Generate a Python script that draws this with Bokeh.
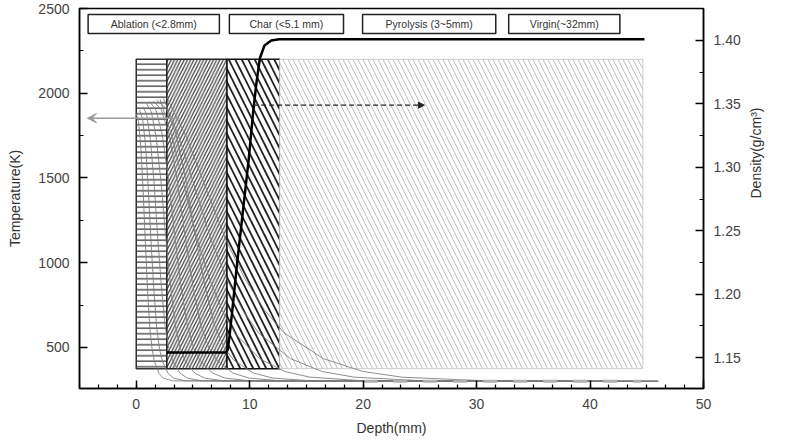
import math
from bokeh.plotting import figure
from bokeh.models import (Range1d, LinearAxis, SingleIntervalTicker, PrintfTickFormatter,
                          Arrow, VeeHead, NormalHead)
from bokeh.embed import file_html
from bokeh.resources import INLINE
from bokeh.core.properties import value

# ---------------- data ----------------
zone_names = ["Ablation (<2.8mm)", "Char (<5.1 mm)", "Pyrolysis (3~5mm)", "Virgin(~32mm)"]
zone_left = [0.0, 2.7, 8.0, 12.65]
zone_right = [2.7, 8.0, 12.65, 44.65]
zone_top = [2200, 2200, 2200, 2200]
zone_bottom = [375, 375, 375, 375]

density_x = [2.7, 7.9, 8.05, 8.2, 8.5, 8.9, 9.4, 9.9, 10.3, 10.6, 10.9, 11.3, 11.9, 12.6, 44.8]
density_y = [1.154, 1.154, 1.156, 1.165, 1.19, 1.225, 1.265, 1.305, 1.343, 1.367, 1.386, 1.396, 1.400, 1.401, 1.401]

t01_x = [0.0, 0.2, 0.4, 0.6, 0.8, 1.0, 1.2, 1.4, 1.6, 2.0, 2.4, 3.2, 46]
t01_T = [1880, 1833, 1690, 1438, 1122, 837, 616, 490, 419, 347, 319, 303, 300]
t02_x = [0.3, 0.55, 0.8, 1.05, 1.3, 1.55, 1.8, 2.05, 2.3, 2.8, 3.3, 4.3, 46]
t02_T = [1900, 1852, 1708, 1452, 1132, 844, 620, 492, 420, 348, 319, 303, 300]
t03_x = [0.6, 0.93, 1.25, 1.58, 1.9, 2.23, 2.55, 2.88, 3.2, 3.85, 4.5, 5.8, 46]
t03_T = [1920, 1871, 1726, 1466, 1142, 851, 624, 494, 422, 349, 319, 303, 300]
t04_x = [0.9, 1.33, 1.75, 2.18, 2.6, 3.03, 3.45, 3.88, 4.3, 5.15, 6.0, 7.7, 46]
t04_T = [1940, 1891, 1743, 1481, 1153, 858, 628, 497, 423, 349, 320, 303, 300]
t05_x = [1.2, 1.75, 2.3, 2.85, 3.4, 3.95, 4.5, 5.05, 5.6, 6.7, 7.8, 10.0, 46]
t05_T = [1950, 1900, 1752, 1488, 1158, 861, 630, 498, 424, 350, 320, 303, 300]
t06_x = [1.5, 2.2, 2.9, 3.6, 4.3, 5.0, 5.7, 6.4, 7.1, 8.5, 9.9, 12.7, 46]
t06_T = [1955, 1905, 1756, 1492, 1161, 863, 631, 499, 424, 350, 320, 303, 300]
t07_x = [1.8, 2.65, 3.5, 4.35, 5.2, 6.05, 6.9, 7.75, 8.6, 10.3, 12.0, 15.4, 46]
t07_T = [1960, 1910, 1761, 1495, 1163, 864, 632, 499, 425, 350, 320, 303, 300]
t08_x = [2.1, 3.2, 4.3, 5.4, 6.5, 7.6, 8.7, 10.9, 13.1, 15.3, 19.7, 46]
t08_T = [1965, 1732, 1432, 1133, 899, 716, 583, 433, 358, 325, 305, 300]
t09_x = [2.4, 3.8, 5.2, 6.6, 8.0, 9.4, 10.8, 13.6, 16.4, 19.2, 24.8, 46]
t09_T = [1970, 1736, 1436, 1135, 901, 718, 584, 434, 358, 325, 305, 300]
t10_x = [2.7, 4.43, 6.15, 7.88, 9.6, 11.33, 13.05, 16.5, 19.95, 23.4, 30.3, 46]
t10_T = [1975, 1741, 1439, 1138, 903, 719, 585, 434, 359, 325, 305, 300]

base_x = [20.0, 44.5]
base_T = [301, 301]

# ---------------- figure ----------------
FONT = "Liberation Sans"
p = figure(width=794, height=445, output_backend="svg", toolbar_location=None,
           x_range=Range1d(-5, 50), y_range=Range1d(258, 2500),
           min_border_left=79, min_border_right=91, min_border_top=8, min_border_bottom=57)
p.background_fill_color = "white"
p.border_fill_color = "white"
p.outline_line_color = "black"
p.outline_line_width = 1.5
p.xgrid.visible = False
p.ygrid.visible = False
p.extra_y_ranges = {"dens": Range1d(1.1256, 1.4252)}

def style_axis(ax):
    ax.axis_line_width = 1.5
    ax.axis_line_color = "black"
    ax.major_tick_in = 8
    ax.major_tick_out = 0
    ax.minor_tick_in = 4
    ax.minor_tick_out = 0
    ax.major_tick_line_width = 1.5
    ax.minor_tick_line_width = 1.2
    ax.major_label_text_font = FONT
    ax.major_label_text_font_size = "14px"
    ax.major_label_text_color = "#444444"
    ax.axis_label_text_font = FONT
    ax.axis_label_text_font_size = "14px"
    ax.axis_label_text_font_style = "normal"
    ax.axis_label_text_color = "#333333"
    ax.major_label_standoff = 10

xa = p.xaxis[0]
xa.ticker = SingleIntervalTicker(interval=10, num_minor_ticks=6)
style_axis(xa)
xa.axis_label = "Depth(mm)"
xa.axis_label_standoff = 8

ya = p.yaxis[0]
ya.ticker = SingleIntervalTicker(interval=500, num_minor_ticks=2)
style_axis(ya)
ya.axis_label = "Temperature(K)"
ya.axis_label_standoff = 12

ra = LinearAxis(y_range_name="dens", ticker=SingleIntervalTicker(interval=0.05, num_minor_ticks=2),
                formatter=PrintfTickFormatter(format="%.2f"))
style_axis(ra)
ra.axis_label = "Density(g/cm³)"
ra.axis_label_standoff = 12
ra.axis_label_orientation = math.pi / 2   # read bottom-to-top like the original
ra.axis_label_text_align = "center"
p.add_layout(ra, "right")

# zone boxes
hatches = ["-", "/", "\\", "\\"]
hcolors = ["#555555", "#444444", "#222222", "#bdbdbd"]
hscale = [5.5, 6.5, 13.0, 10.0]
hweight = [1.5, 1.3, 1.8, 1.0]
lcolors = ["#333333", "#222222", "#111111", "#cccccc"]
for i in range(4):
    p.quad(left=zone_left[i], right=zone_right[i], top=zone_top[i], bottom=zone_bottom[i],
           fill_color="white", hatch_pattern=hatches[i], hatch_color=hcolors[i],
           hatch_scale=hscale[i], hatch_weight=hweight[i],
           line_color=lcolors[i], line_width=1.5 if i < 3 else 1.0)

# temperature curves
curves = [(t01_x, t01_T), (t02_x, t02_T), (t03_x, t03_T), (t04_x, t04_T), (t05_x, t05_T),
          (t06_x, t06_T), (t07_x, t07_T), (t08_x, t08_T), (t09_x, t09_T), (t10_x, t10_T)]
for cx, cT in curves:
    p.line(cx, cT, line_color="#7a7a7a", line_width=1.0, line_alpha=0.85)
p.line(base_x, base_T, line_color="#b0b0b0", line_width=3, line_dash="14 16")

# density curve
p.line(density_x, density_y, y_range_name="dens", line_color="black", line_width=2.5)

# arrows
p.add_layout(Arrow(end=VeeHead(size=9, fill_color="#999999", line_color="#999999", line_width=1),
                   x_start=3.8, y_start=1853, x_end=-4.3, y_end=1853,
                   line_color="#999999", line_width=1.5))
p.add_layout(Arrow(end=NormalHead(size=6, fill_color="#222222", line_color="#222222"),
                   x_start=10.3, y_start=1.349, x_end=25.4, y_end=1.349, y_range_name="dens",
                   line_color="#222222", line_width=1.2, line_dash="5 3"))

# zone labels at top
lab_left = [-4.24, 8.21, 19.95, 32.83]
lab_right = [7.33, 18.27, 31.69, 42.63]
p.quad(left=lab_left, right=lab_right, top=2465, bottom=2353,
       fill_color="white", line_color="#222222", line_width=1.5)
p.text(x=[(a + b) / 2 for a, b in zip(lab_left, lab_right)], y=[2409] * 4, text=zone_names,
       text_font=value(FONT), text_font_size="10.5px", text_color="#333333",
       text_align="center", text_baseline="middle")

open("out.html", "w").write(file_html(p, INLINE))
